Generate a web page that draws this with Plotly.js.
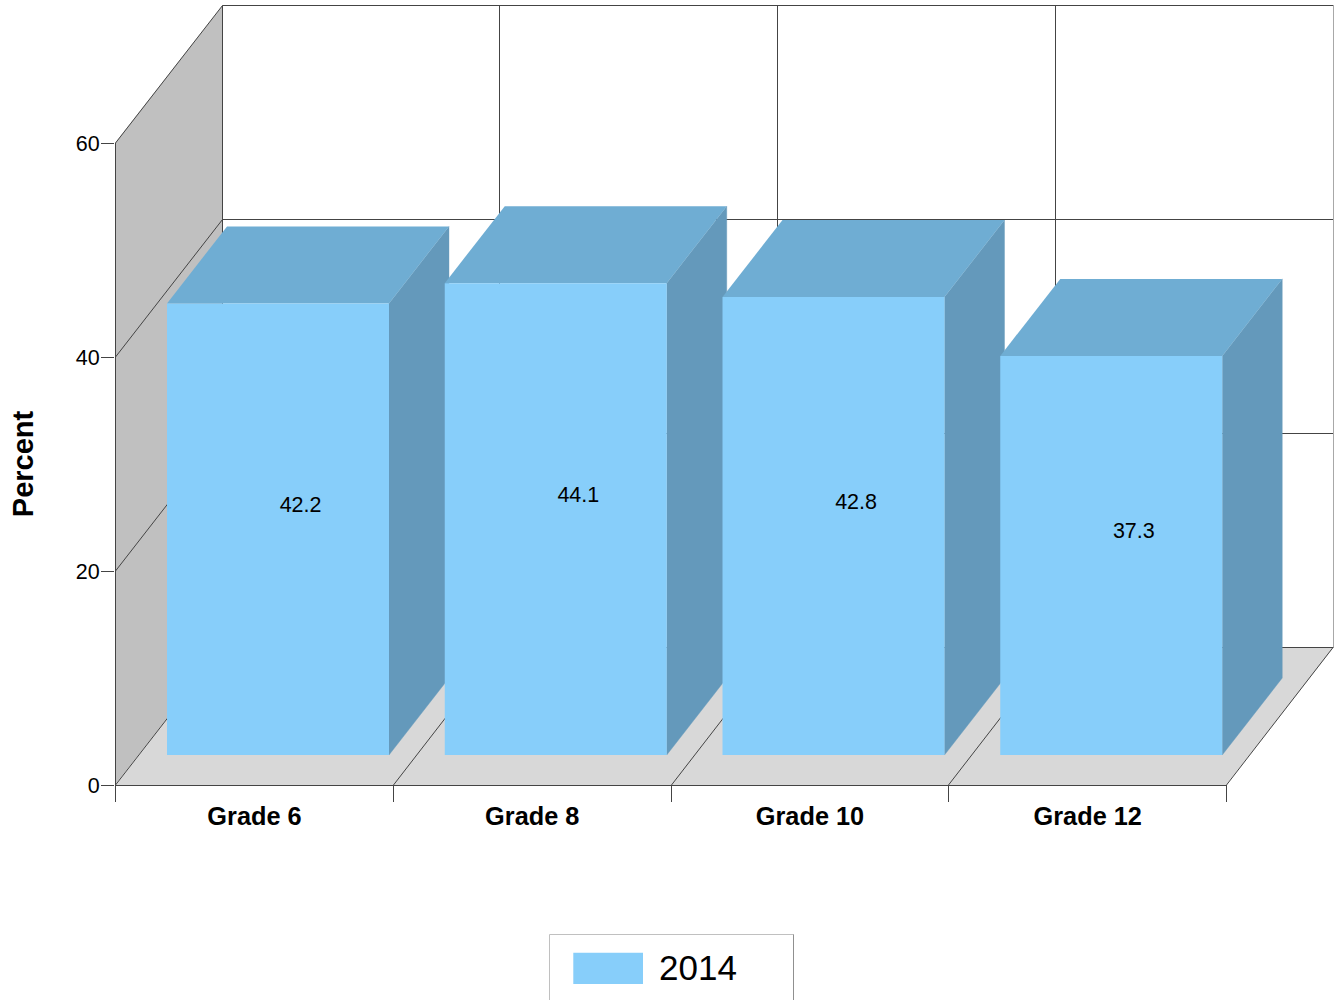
<!DOCTYPE html>
<html>
<head>
<meta charset="utf-8">
<script src="https://cdn.plot.ly/plotly-3.0.1.min.js"></script>
<style>html,body{margin:0;padding:0;overflow:hidden;background:#fff}</style>
</head>
<body>
<div id="chart" style="width:1335px;height:1000px"></div>
<script>
const categories = ["Grade 6", "Grade 8", "Grade 10", "Grade 12"];
const values2014 = [42.2, 44.1, 42.8, 37.3];
const seriesName = "2014";
const yTicks = [0, 20, 40, 60];
const yMax = 60;

const W = 1335, H = 1000, L = 115, R = 1226, T = 143, B = 785, FAR_R = 1334, FAR_T = 5;
const pxX = (R - L) / categories.length, pxY = (B - T) / yMax;
const dx = p => p / pxX, dy = p => p / pxY;
const n = categories.length;
const fullX = [0, dx(FAR_R - L)], fullY = [0, dy(B - FAR_T)];
const paperX = p => (p - L) / (FAR_R - L), paperY = p => (B - p) / (B - FAR_T);
const tickShift = dx(0.6);

const wall = {x: dx(107.5), y: dy(137.5)};
const lineStart = dx(0.5);
const backGridX = [222.5, 499.5, 777.5, 1055.5, 1333.5].map(p => dx(p - L));
const floorLineX = [393.5, 671.5, 948.5, 1226.5].map(p => dx(p - L));
const bar = {left: dx(52), width: dx(222), base: dy(30), depthX: dx(60), depthY: dy(77)};
const FONT = "Liberation Sans, Arial, sans-serif";
const C = {front: "#87CEFA", top: "#6FADD3", side: "#6499BB", leftWall: "#C0C0C0", floor: "#D8D8D8", line: "#444444", rightEdge: "#A8A8A8"};

function poly(xs, ys, color, seam) {
  return {type: "scatter", mode: "lines", x: xs, y: ys, fill: "toself", fillcolor: color,
    line: {width: seam || 0, color: color}, hoverinfo: "skip", showlegend: false};
}
function path(xs, ys, color) {
  return {type: "scatter", mode: "lines", x: xs, y: ys, line: {width: 1, color: color || C.line},
    hoverinfo: "skip", showlegend: false};
}
const traces = [];
traces.push(poly([0, wall.x, wall.x, 0, 0], [yMax, yMax + wall.y, wall.y, 0, yMax], C.leftWall));
traces.push(poly([0, n, n + wall.x, wall.x, 0], [0, 0, wall.y, wall.y, 0], C.floor));
yTicks.forEach(t => traces.push(path([lineStart, wall.x, n + wall.x], [t, t + wall.y, t + wall.y])));
backGridX.forEach((x, i) => traces.push(path([x, x], [wall.y, yMax + wall.y], i === n ? C.rightEdge : C.line)));
floorLineX.forEach(x => traces.push(path([x, x + wall.x - lineStart * 2], [0, wall.y])));
traces.push(path([lineStart, lineStart], [0, yMax]));
categories.forEach((c, i) => {
  const v = values2014[i];
  const x0 = i + bar.left, x1 = x0 + bar.width, y0 = bar.base, y1 = bar.base + v;
  const xd = bar.depthX, yd = bar.depthY;
  traces.push(poly([x1, x1 + xd, x1 + xd, x1, x1], [y0, y0 + yd, y1 + yd, y1, y0], C.side, 0.4));
  traces.push(poly([x0, x1, x1 + xd, x0 + xd, x0], [y1, y1, y1 + yd, y1 + yd, y1], C.top));
  const front = poly([x0, x1, x1, x0, x0], [y0, y0, y1, y1, y0], C.front);
  front.name = seriesName;
  traces.push(front);
});
// Value labels live on the visible axes (x2 / y2), which sit above the marks.
traces.push({type: "scatter", mode: "text", xaxis: "x2", yaxis: "y2",
  x: categories.map((c, i) => i + bar.left + bar.width / 2 + dx(22)),
  y: values2014.map(v => bar.base + v / 2 + dy(22.6)),
  text: values2014.map(v => v.toFixed(1)),
  textposition: "middle center",
  textfont: {family: FONT, size: 21.5, color: "#000"},
  hoverinfo: "skip", showlegend: false, cliponaxis: false});

const layout = {
  width: W, height: H,
  margin: {l: L, r: W - FAR_R, t: FAR_T, b: H - B, pad: 0},
  paper_bgcolor: "#fff", plot_bgcolor: "rgba(0,0,0,0)",
  showlegend: false,
  font: {family: FONT, color: "#000"},
  xaxis: {type: "linear", range: fullX, fixedrange: true, visible: false, domain: [0, 1]},
  yaxis: {type: "linear", range: fullY, fixedrange: true, visible: false, domain: [0, 1]},
  xaxis2: {
    type: "linear", anchor: "y2", domain: [0, (R + 1 - L) / (FAR_R - L)], range: [-tickShift, n - tickShift + dx(1)], fixedrange: true,
    zeroline: false, showgrid: false, showline: true, linecolor: C.line, linewidth: 1,
    tickmode: "array", tickvals: categories.map((c, i) => i + 0.5), ticktext: categories.map(c => "<b>" + c + "</b>"),
    ticks: "", tickfont: {family: FONT, size: 25.3, color: "#000"}, ticklabelstandoff: 9,
    minor: {tickmode: "array", tickvals: categories.map((c, i) => i).concat([n]), ticks: "outside", ticklen: 16, tickcolor: C.line, tickwidth: 1, showgrid: false}
  },
  yaxis2: {
    type: "linear", anchor: "x2", domain: [0, (B - T) / (B - FAR_T)], range: [0, yMax], fixedrange: true,
    zeroline: false, showgrid: false, showline: false,
    tickmode: "array", tickvals: yTicks, ticktext: yTicks.map(String),
    ticks: "outside", ticklen: 13, tickcolor: C.line, tickwidth: 1,
    tickfont: {family: FONT, size: 21.5, color: "#000"}, ticklabelstandoff: -3,
    title: {text: "<b>Percent</b>", font: {family: FONT, size: 29, color: "#000"}, standoff: 33}
  },
  shapes: [
    {type: "rect", xref: "paper", yref: "paper", x0: paperX(549.5), x1: paperX(793.5), y0: paperY(1010), y1: paperY(934.5),
      line: {color: "#C0C0C0", width: 1}, fillcolor: "#fff"},
    {type: "line", xref: "paper", yref: "paper", x0: paperX(793.5), x1: paperX(793.5), y0: paperY(1010), y1: paperY(934.5),
      line: {color: "#909090", width: 1}},
    {type: "rect", xref: "paper", yref: "paper", x0: paperX(573.3), x1: paperX(643), y0: paperY(984), y1: paperY(952.7),
      line: {width: 0}, fillcolor: C.front}
  ],
  annotations: [
    {xref: "paper", yref: "paper", x: paperX(657), y: paperY(967), xanchor: "left", yanchor: "middle",
      text: seriesName, showarrow: false, font: {family: FONT, size: 35, color: "#000"}}
  ]
};
Plotly.newPlot("chart", traces, layout, {displayModeBar: false, staticPlot: true});
</script>
</body>
</html>
